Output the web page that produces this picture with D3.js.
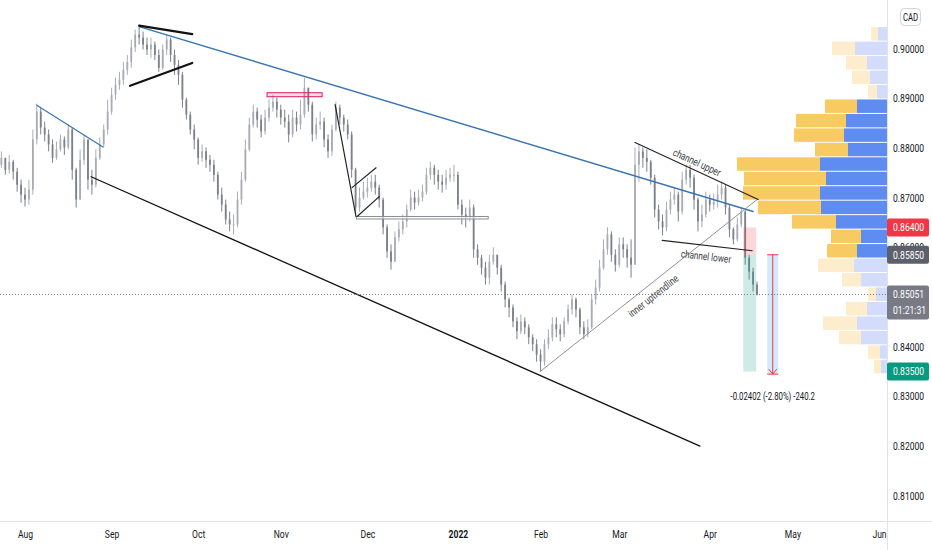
<!DOCTYPE html>
<html>
<head>
<meta charset="utf-8">
<script src="https://cdn.jsdelivr.net/npm/d3@7"></script>
<style>
  html, body { margin: 0; padding: 0; background: #fff; }
  svg { display: block; }
</style>
</head>
<body>
<div id="chart"></div>
<script>

// first bar of the series (daily bars, weekdays only)
const firstDay = "2021-07-22";

const highs = [
	.8786, .8793, .8780, .8786, .8776, .8760, .8736,
	.8720, .8736, .8837, .8889, .8881, .8853, .8837, .8817, .8813, .8827,
	.8823, .8847, .8841, .8760, .8797, .8827, .8817, .8756, .8797, .8821,
	.8847, .8897, .8921, .8941, .8953, .8973, .8987, .9018, .9038, .9044,
	.9034, .9022, .9022, .9014, .8998, .9008, .9028, .9022, .8998, .8977,
	.8953, .8901, .8873, .8847, .8821, .8807, .8801, .8786, .8776, .8752,
	.8720, .8696, .8672, .8666, .8712, .8752, .8817, .8861, .8887, .8881,
	.8867, .8877, .8897, .8907, .8901, .8887, .8877, .8867, .8877, .8873,
	.8897, .8941, .8921, .8893, .8861, .8873, .8861, .8827, .8847, .8893,
	.8887, .8867, .8857, .8833, .8760, .8720, .8732, .8740, .8746, .8746,
	.8726, .8700, .8646, .8606, .8632, .8652, .8666, .8686, .8716, .8712,
	.8716, .8726, .8760, .8772, .8766, .8756, .8746, .8756, .8760, .8766,
	.8752, .8696, .8680, .8696, .8686, .8606, .8585, .8571, .8585, .8600,
	.8585, .8565, .8531, .8499, .8485, .8459, .8465, .8459, .8445, .8425,
	.8415, .8395, .8415, .8435, .8459, .8459, .8445, .8459, .8485, .8505,
	.8499, .8479, .8451, .8455, .8505, .8535, .8575, .8616, .8640, .8632,
	.8596, .8620, .8620, .8606, .8616, .8801, .8807, .8801, .8797, .8776,
	.8746, .8686, .8666, .8692, .8712, .8720, .8712, .8752, .8766, .8766,
	.8746, .8700, .8686, .8712, .8706, .8708, .8726, .8732, .8726, .8686,
	.8640, .8660, .8680, .8676, .8585, .8559, .8531
];

const lows = [
	.8752, .8760, .8746, .8748, .8736, .8712, .8690,
	.8682, .8686, .8706, .8807, .8827, .8813, .8793, .8770, .8776, .8793,
	.8786, .8797, .8736, .8680, .8696, .8766, .8716, .8706, .8720, .8776,
	.8801, .8827, .8867, .8897, .8917, .8927, .8947, .8961, .8993, .9008,
	.8998, .8987, .8981, .8977, .8953, .8957, .8987, .8973, .8947, .8927,
	.8881, .8857, .8827, .8797, .8766, .8772, .8760, .8752, .8732, .8696,
	.8672, .8646, .8632, .8626, .8640, .8686, .8732, .8793, .8841, .8841,
	.8821, .8827, .8853, .8873, .8861, .8847, .8841, .8811, .8821, .8833,
	.8837, .8861, .8873, .8813, .8817, .8837, .8801, .8780, .8784, .8833,
	.8847, .8833, .8817, .8740, .8664, .8672, .8696, .8700, .8712, .8706,
	.8680, .8626, .8579, .8555, .8571, .8612, .8626, .8640, .8672, .8676,
	.8684, .8692, .8706, .8736, .8726, .8716, .8710, .8716, .8732, .8732,
	.8676, .8646, .8640, .8652, .8579, .8565, .8545, .8525, .8525, .8565,
	.8545, .8511, .8479, .8459, .8439, .8415, .8425, .8425, .8405, .8391,
	.8370, .8350, .8362, .8395, .8411, .8419, .8411, .8419, .8445, .8465,
	.8459, .8425, .8415, .8419, .8435, .8485, .8511, .8555, .8585, .8571,
	.8551, .8559, .8579, .8559, .8539, .8565, .8732, .8760, .8752, .8726,
	.8660, .8636, .8624, .8632, .8666, .8686, .8652, .8666, .8726, .8720,
	.8676, .8632, .8640, .8660, .8672, .8676, .8680, .8696, .8666, .8620,
	.8606, .8612, .8640, .8565, .8535, .8511, .8503
];

const closes = [
	.8766, .8780, .8756, .8772, .8752, .8726, .8706,
	.8696, .8716, .8817, .8873, .8841, .8827, .8807, .8780, .8797, .8817,
	.8801, .8837, .8756, .8696, .8776, .8817, .8736, .8726, .8780, .8807,
	.8837, .8873, .8907, .8927, .8937, .8957, .8973, .9002, .9028, .9022,
	.9008, .8998, .9008, .8987, .8961, .8998, .9018, .8987, .8967, .8947,
	.8897, .8867, .8837, .8817, .8780, .8793, .8776, .8766, .8746, .8706,
	.8686, .8656, .8646, .8646, .8696, .8736, .8797, .8847, .8873, .8857,
	.8833, .8861, .8881, .8893, .8877, .8861, .8853, .8827, .8861, .8847,
	.8867, .8921, .8887, .8827, .8847, .8853, .8817, .8793, .8837, .8881,
	.8861, .8847, .8827, .8756, .8680, .8700, .8712, .8720, .8732, .8720,
	.8696, .8640, .8592, .8571, .8620, .8636, .8652, .8676, .8700, .8690,
	.8700, .8712, .8746, .8760, .8746, .8732, .8726, .8740, .8746, .8746,
	.8686, .8666, .8660, .8680, .8596, .8579, .8559, .8539, .8571, .8585,
	.8559, .8525, .8495, .8479, .8451, .8431, .8451, .8439, .8419, .8405,
	.8384, .8370, .8405, .8419, .8445, .8435, .8425, .8451, .8475, .8495,
	.8475, .8439, .8425, .8439, .8495, .8519, .8559, .8596, .8626, .8585,
	.8565, .8606, .8596, .8579, .8565, .8766, .8793, .8780, .8772, .8740,
	.8676, .8652, .8640, .8676, .8696, .8706, .8672, .8736, .8756, .8740,
	.8696, .8652, .8666, .8696, .8686, .8692, .8706, .8720, .8680, .8636,
	.8616, .8646, .8672, .8579, .8551, .8525, .85051
];

// price axis + time axis labels (0.85000 sits under the last price tag)
const priceTicks = [0.81, 0.82, 0.83, 0.84, 0.86, 0.87, 0.88, 0.89, 0.90];
const monthLabels = ["Aug", "Sep", "Oct", "Nov", "Dec", "2022", "Feb", "Mar", "Apr", "May", "Jun"];

// volume profile rows (top price of first row, row height in price)
const vpTop = 0.9044;
const vpRow = 0.00291;
const vpUp = [9, 32, 20, 17, 10, 30, 41, 43, 39, 67, 61, 67, 66, 51, 26, 30, 33, 26, 11, 20, 30, 26, 7, 6];
const vpDown = [7, 23, 21, 18, 9, 32, 50, 50, 33, 83, 82, 77, 63, 44, 30, 30, 36, 19, 8, 21, 34, 22, 12, 7];
const vpValueArea = [5, 15];

// drawings: [bar, price] pairs, bar counted from firstDay
const blueShort = [[10, .8886], [26.8, .8802]];
const blueLong = [[36, .9044], [192, .8672]];
const wedgeUpper = [[36, .9046], [49.5, .9029]];
const wedgeLower = [[33.7, .8925], [49.5, .8971]];
const mainSupport = [[23.8, .8742], [178.5, .8200]];
const novDrop = [[85.8, .8887], [91.1, .8662]];
const flagUpper = [[90.1, .8720], [96.2, .8760]];
const flagLower = [[91.4, .8662], [97, .8702]];
const innerUp = [[137.9, .8350], [193, .8696]];
const channelUpper = [[162, .8811], [193.3, .8696]];
const channelLower = [[168.9, .8614], [191.8, .8593]];
const novBox = {bars: [68.5, 82.5], prices: [.8911, .8903]};
const levelBox = {bars: [91.2, 124.7], prices: [.8662, .8657]};
const position = {bars: [189.5, 192.8], stop: .8640, entry: .8585, target: .8350};
const measure = {bars: [195.6, 198.4], from: .8585, to: .83448};
const lastTime = "01:21:31";

const FONT = "Roboto, 'Liberation Sans', sans-serif";
const SQUEEZE = 0.78;   // the chart's font is a narrow one

drawChart();

function drawChart() {

	let width = 932, height = 550;
	let W = 887, H = 521;

	let svg = d3.select("#chart").append("svg")
		.attr("width", width)
		.attr("height", height)
		.attr("font-family", FONT);

	// trading days
	let parse = d3.timeParse("%Y-%m-%d");
	let days = d3.timeDay.range(parse(firstDay), parse("2022-06-20"))
		.filter(d => d.getDay() !== 0 && d.getDay() !== 6);

	let monthStarts = d3.timeMonth.range(new Date(2021, 7, 1), new Date(2022, 6, 1));
	let monthIdx = monthStarts.map(m => days.findIndex(d => d >= m));

	// X scale: bar index
	let x = d3.scaleLinear()
		.domain([monthIdx[0], monthIdx[monthIdx.length - 1]])
		.range([25, 879]);

	// Y scale: price
	let y = d3.scaleLinear()
		.domain([0.81, 0.90])
		.range([495.8, 48.5]);

	svg.append("defs").append("clipPath").attr("id", "plot")
		.append("rect").attr("width", W).attr("height", H);

	let plot = svg.append("g").attr("clip-path", "url(#plot)");

	// narrow text helper: text placed at (tx, ty), squeezed horizontally
	function narrowText(parent, tx, ty, extra) {
		return parent.append("text")
			.attr("transform", "translate(" + tx + "," + ty + ")" + (extra || "") + " scale(" + SQUEEZE + ",1)");
	}

	// volume profile
	let vpWidth = d3.scaleLinear()
		.domain([0, d3.max(vpUp, (d, i) => d + vpDown[i])])
		.range([0, 150]);

	let rows = vpUp.map((u, i) => ({
		top: vpTop - i * vpRow,
		up: u,
		down: vpDown[i],
		va: i >= vpValueArea[0] && i <= vpValueArea[1]
	}));

	let vp = plot.append("g");
	vp.selectAll(".vp-up").data(rows).enter().append("rect")
		.attr("x", d => W - vpWidth(d.up))
		.attr("y", d => y(d.top) + 0.5)
		.attr("width", d => vpWidth(d.up))
		.attr("height", d => y(d.top - vpRow) - y(d.top) - 1)
		.attr("fill", d => d.va ? "#5e8cf0" : "#d3ddfb");
	vp.selectAll(".vp-down").data(rows).enter().append("rect")
		.attr("x", d => W - vpWidth(d.up + d.down))
		.attr("y", d => y(d.top) + 0.5)
		.attr("width", d => vpWidth(d.down))
		.attr("height", d => y(d.top - vpRow) - y(d.top) - 1)
		.attr("fill", d => d.va ? "#f8cb62" : "#fdedcc");

	// candles
	let bars = closes.map((c, i) => ({
		i: i,
		open: i > 0 ? closes[i - 1] : c,
		close: c,
		high: highs[i],
		low: lows[i]
	}));

	let upCol = "#a9acb4", downCol = "#7d808a";

	let candles = plot.append("g").selectAll("g")
		.data(bars)
		.enter().append("g")
		.attr("transform", d => "translate(" + x(d.i) + ",0)");

	candles.append("line")
		.attr("y1", d => y(Math.max(d.high, d.open, d.close)))
		.attr("y2", d => y(Math.min(d.low, d.open, d.close)))
		.attr("stroke", d => d.close >= d.open ? upCol : downCol)
		.attr("stroke-width", 1);

	candles.append("rect")
		.attr("x", -0.9)
		.attr("width", 1.8)
		.attr("y", d => y(Math.max(d.open, d.close)))
		.attr("height", d => Math.max(1, Math.abs(y(d.open) - y(d.close))))
		.attr("fill", d => d.close >= d.open ? upCol : downCol);

	// drawings
	let pt = p => [x(p[0]), y(p[1])];

	function trend(pts, color, w) {
		plot.append("line")
			.attr("x1", pt(pts[0])[0]).attr("y1", pt(pts[0])[1])
			.attr("x2", pt(pts[1])[0]).attr("y2", pt(pts[1])[1])
			.attr("stroke", color)
			.attr("stroke-width", w)
			.attr("stroke-linecap", "round");
	}

	function lineLabel(pts, frac, off, txt) {
		let a = pt(pts[0]), b = pt(pts[1]);
		let cx = a[0] + (b[0] - a[0]) * frac,
			cy = a[1] + (b[1] - a[1]) * frac;
		let ang = Math.atan2(b[1] - a[1], b[0] - a[0]) * 180 / Math.PI;
		narrowText(plot, cx, cy, " rotate(" + ang + ")")
			.attr("y", off)
			.attr("dy", "0.35em")
			.attr("text-anchor", "middle")
			.attr("font-size", 10.5)
			.attr("fill", "#3b3e45")
			.text(txt);
	}

	// position tool (stop / target zones)
	let px0 = x(position.bars[0]), px1 = x(position.bars[1]);
	plot.append("rect")
		.attr("x", px0).attr("width", px1 - px0)
		.attr("y", y(position.stop)).attr("height", y(position.entry) - y(position.stop))
		.attr("fill", "rgba(242,54,69,0.2)");
	plot.append("rect")
		.attr("x", px0).attr("width", px1 - px0)
		.attr("y", y(position.entry)).attr("height", y(position.target) - y(position.entry))
		.attr("fill", "rgba(8,153,129,0.2)");

	// nov resistance box
	plot.append("rect")
		.attr("x", x(novBox.bars[0])).attr("width", x(novBox.bars[1]) - x(novBox.bars[0]))
		.attr("y", y(novBox.prices[0])).attr("height", y(novBox.prices[1]) - y(novBox.prices[0]))
		.attr("fill", "rgba(233,30,99,0.15)")
		.attr("stroke", "#d81b60")
		.attr("stroke-width", 1);

	// double horizontal level
	plot.append("rect")
		.attr("x", x(levelBox.bars[0])).attr("width", x(levelBox.bars[1]) - x(levelBox.bars[0]))
		.attr("y", y(levelBox.prices[0])).attr("height", y(levelBox.prices[1]) - y(levelBox.prices[0]))
		.attr("fill", "#fff")
		.attr("fill-opacity", 0.6)
		.attr("stroke", "#8a8d96")
		.attr("stroke-width", 1);

	trend(blueShort, "#3a74b0", 1.2);
	trend(blueLong, "#3a74b0", 1.4);
	trend(wedgeUpper, "#111", 2.2);
	trend(wedgeLower, "#111", 2.2);
	trend(mainSupport, "#111", 1.3);
	trend(novDrop, "#222", 1.2);
	trend(flagUpper, "#222", 1.2);
	trend(flagLower, "#222", 1.2);
	trend(innerUp, "#8f929a", 1);
	trend(channelUpper, "#222", 1.1);
	trend(channelLower, "#222", 1.1);

	lineLabel(channelUpper, 0.476, -8, "channel upper");
	lineLabel(channelLower, 0.5, 11, "channel lower");
	lineLabel(innerUp, 0.49, 11, "inner uptrendline");

	// current price dotted line
	let last = closes[closes.length - 1];
	plot.append("line")
		.attr("x1", 0).attr("x2", W)
		.attr("y1", y(last)).attr("y2", y(last))
		.attr("stroke", "#787b86")
		.attr("stroke-width", 1)
		.attr("stroke-dasharray", "1,2");

	// price range measure
	let mx0 = x(measure.bars[0]), mx1 = x(measure.bars[1]), mxc = (mx0 + mx1) / 2;
	plot.append("rect")
		.attr("x", mx0).attr("width", mx1 - mx0)
		.attr("y", y(measure.from)).attr("height", y(measure.to) - y(measure.from))
		.attr("fill", "rgba(33,150,243,0.2)");
	let red = "#f23645";
	plot.append("line")
		.attr("x1", mxc).attr("x2", mxc)
		.attr("y1", y(measure.from)).attr("y2", y(measure.to))
		.attr("stroke", red);
	[measure.from, measure.to].forEach(p => {
		plot.append("line")
			.attr("x1", mx0).attr("x2", mx1)
			.attr("y1", y(p)).attr("y2", y(p))
			.attr("stroke", red);
	});
	plot.append("path")
		.attr("d", "M" + (mxc - 4) + "," + (y(measure.to) - 5) + "L" + mxc + "," + y(measure.to) + "L" + (mxc + 4) + "," + (y(measure.to) - 5))
		.attr("fill", "none")
		.attr("stroke", red);

	let diff = measure.to - measure.from;
	narrowText(plot, mxc, y(measure.to) + 26)
		.attr("text-anchor", "middle")
		.attr("font-size", 10)
		.attr("fill", "#131722")
		.text(diff.toFixed(5) + " (" + (diff / measure.from * 100).toFixed(2) + "%) " + (diff * 10000).toFixed(1));

	// dividers
	svg.append("line").attr("x1", W + 0.5).attr("x2", W + 0.5).attr("y1", 0).attr("y2", height)
		.attr("stroke", "#e0e3eb");
	svg.append("line").attr("x1", 0).attr("x2", width).attr("y1", H + 0.5).attr("y2", H + 0.5)
		.attr("stroke", "#e0e3eb");

	// Y axis
	let yAxis = d3.axisRight(y)
		.tickValues(priceTicks)
		.tickFormat(d3.format(".5f"))
		.tickSize(0)
		.tickPadding(6);

	svg.append("g")
		.attr("class", "y axis")
		.attr("transform", "translate(" + W + ",0)")
		.call(yAxis)
		.call(g => g.select(".domain").remove())
		.attr("font-family", FONT)
		.selectAll("text")
		.attr("font-size", 11)
		.attr("fill", "#131722")
		.attr("x", 6 / SQUEEZE)
		.attr("transform", "scale(" + SQUEEZE + ",1)");

	// X axis
	let xAxis = d3.axisBottom(x)
		.tickValues(monthIdx)
		.tickFormat((d, i) => monthLabels[i])
		.tickSize(0)
		.tickPadding(9);

	svg.append("g")
		.attr("class", "x axis")
		.attr("transform", "translate(0," + H + ")")
		.call(xAxis)
		.call(g => g.select(".domain").remove())
		.attr("font-family", FONT)
		.selectAll("text")
		.attr("font-size", 11)
		.attr("fill", "#131722")
		.attr("transform", "scale(" + SQUEEZE + ",1)")
		.attr("font-weight", (d, i) => monthLabels[i] === "2022" ? 700 : 400);

	// price tags on the axis
	let f5 = d3.format(".5f");
	function tag(price, color, lines) {
		let h = 18 * lines.length - (lines.length - 1) * 2;
		let top = y(price) - 9;
		let g = svg.append("g");
		g.append("rect")
			.attr("x", W).attr("y", top)
			.attr("width", 42).attr("height", h)
			.attr("rx", 2)
			.attr("fill", color);
		lines.forEach((t, k) => {
			narrowText(g, W + 6, top + 9 + k * 16)
				.attr("dy", "0.35em")
				.attr("font-size", 11)
				.attr("fill", "#fff")
				.text(t);
		});
	}
	tag(position.stop, "#f23645", [f5(position.stop)]);
	tag(position.entry, "#5d606b", [f5(position.entry)]);
	tag(last, "#787b86", [f5(last), lastTime]);
	tag(position.target, "#089981", [f5(position.target)]);

	// currency badge
	svg.append("rect")
		.attr("x", 900.5).attr("y", 8.5)
		.attr("width", 20).attr("height", 17)
		.attr("rx", 4)
		.attr("fill", "#fff")
		.attr("stroke", "#d1d4dc");
	narrowText(svg, 910.5, 17)
		.attr("dy", "0.35em")
		.attr("text-anchor", "middle")
		.attr("font-size", 10)
		.attr("fill", "#131722")
		.text("CAD");
}
</script>
</body>
</html>
